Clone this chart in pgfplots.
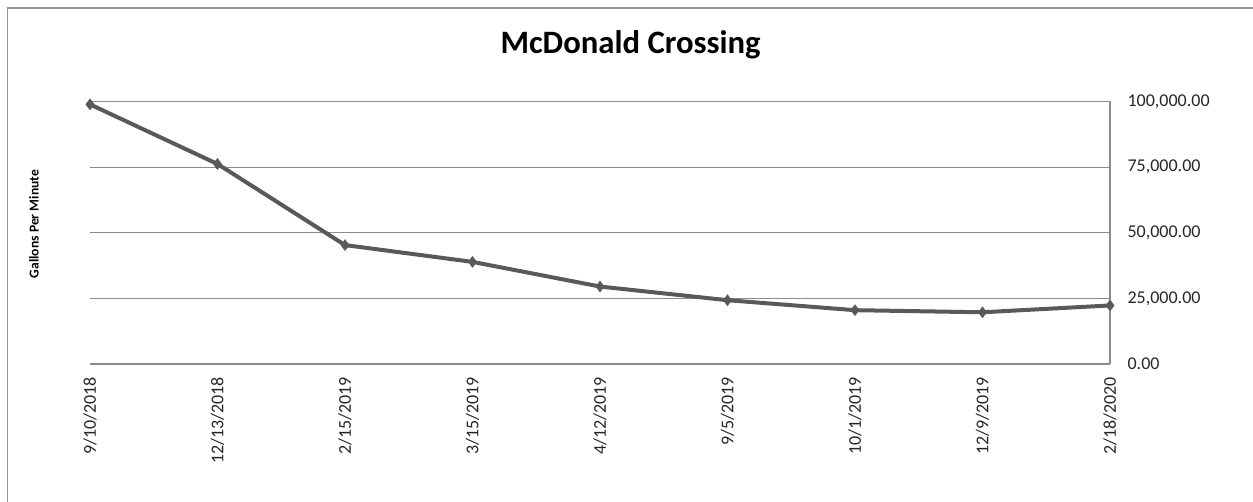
\documentclass[border=0pt]{standalone}
\usepackage{fontspec}
\setmainfont{Carlito}
\usepackage{pgfplots}
\pgfplotsset{compat=1.18}

\definecolor{linegray}{RGB}{89,89,89}
\definecolor{gridgray}{RGB}{140,140,140}
\definecolor{framegray}{RGB}{150,150,150}

\begin{document}
\begin{tikzpicture}
% picture is 1253x502 px, 1 px = 0.75 pt
\useasboundingbox (0,0) rectangle (939.75pt,376.5pt);
\draw[framegray, line width=0.8pt] (5.5pt,0) -- (5.5pt,370.5pt) -- (939.75pt,370.5pt);
\begin{axis}[
  at={(67.5pt,103.5pt)}, anchor=south west,
  scale only axis,
  width=765pt, height=196.875pt,
  xmin=0, xmax=8,
  ymin=0, ymax=100000,
  xtick=data,
  xticklabels={9/10/2018,12/13/2018,2/15/2019,3/15/2019,4/12/2019,9/5/2019,10/1/2019,12/9/2019,2/18/2020},
  ytick={0,25000,50000,75000,100000},
  scaled y ticks=false,
  yticklabel pos=right,
  yticklabel={\pgfmathprintnumber[fixed,fixed zerofill,precision=2,1000 sep={,}]{\tick}},
  /pgf/number format/assume math mode=true,
  major tick length=0pt,
  axis x line*=bottom,
  axis y line*=right,
  axis line style={gridgray, line width=0.8pt},
  ymajorgrids,
  major grid style={gridgray, line width=0.8pt},
  tick label style={font=\fontsize{13.5}{16}\selectfont, text=black!85},
  xticklabel style={rotate=90, anchor=east, inner xsep=9.5pt},
  yticklabel style={anchor=west, inner xsep=13pt},
  title={McDonald Crossing},
  title style={at={(0.53,1)}, anchor=base, yshift=30pt, font=\fontsize{24.5}{28}\selectfont\bfseries},
  ylabel={Gallons Per Minute},
  every axis y label/.style={at={(rel axis cs:0,0.533)}, xshift=-42pt, rotate=90, anchor=center, font=\fontsize{10.2}{12}\selectfont\bfseries},
  clip=false,
]
\addplot[linegray, line width=3pt, mark=diamond*, mark size=4pt, mark options={solid, fill=linegray, line width=0.5pt}] coordinates {
(0, 98900)
(1, 76200)
(2, 45300)
(3, 38900)
(4, 29500)
(5, 24300)
(6, 20500)
(7, 19700)
(8, 22300)
};
\end{axis}
\end{tikzpicture}
\end{document}
